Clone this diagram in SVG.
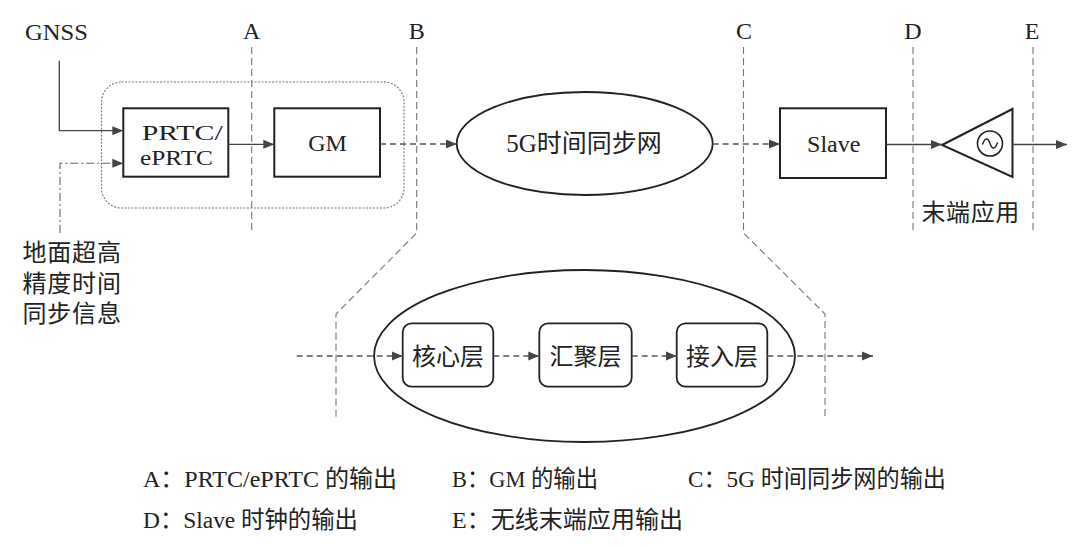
<svg xmlns="http://www.w3.org/2000/svg" width="1080" height="547" viewBox="0 0 1080 547">
<defs>
<marker id="ah" markerUnits="userSpaceOnUse" markerWidth="11" markerHeight="10" refX="11" refY="5" orient="auto">
<path d="M0,0.5 L11,5 L0,9.5 z" fill="#444"/>
</marker>
</defs>
<style>
.lat{font-family:"Liberation Serif","Noto Sans CJK SC",serif;fill:#222;}
.cjk{font-family:"Liberation Serif","Noto Sans CJK SC",serif;fill:#222;}
.box{fill:#fff;stroke:#222;stroke-width:2;}
.rbox{fill:#fff;stroke:#222;stroke-width:1.8;}
.ell{fill:#fff;stroke:#222;stroke-width:1.8;}
.solid{stroke:#444;stroke-width:1.3;fill:none;}
.dash{stroke:#555;stroke-width:1.4;fill:none;stroke-dasharray:6 4;}
.dashdot{stroke:#666;stroke-width:1.1;fill:none;stroke-dasharray:8 3 2 3;}
.ref{stroke:#777;stroke-width:1.1;fill:none;stroke-dasharray:7 4;}
.frame{fill:none;stroke:#777;stroke-width:1.1;stroke-dasharray:2 1.5;}
</style>
<rect width="1080" height="547" fill="#fff"/>

<g id="ref-lines">
<path class="ref" d="M251.7,47 V233"/>
<path class="ref" d="M416.7,47 V233 L336,314 V418"/>
<path class="ref" d="M743.5,47 V233 L825,314 V418"/>
<path class="ref" d="M913,47 V233"/>
<path class="ref" d="M1033,47 V233"/>
<text class="lat" x="251.7" y="39" font-size="24" text-anchor="middle">A</text>
<text class="lat" x="416.7" y="39" font-size="24" text-anchor="middle">B</text>
<text class="lat" x="744" y="39" font-size="24" text-anchor="middle">C</text>
<text class="lat" x="913" y="39" font-size="24" text-anchor="middle">D</text>
<text class="lat" x="1032" y="39" font-size="24" text-anchor="middle">E</text>
</g>

<g id="source-frame">
<rect class="frame" x="101.5" y="82" width="302.5" height="126" rx="20"/>
</g>

<g id="gnss">
<text class="lat" x="25" y="40" font-size="24" textLength="63" lengthAdjust="spacingAndGlyphs">GNSS</text>
</g>

<g id="ground-info">
<text class="cjk" x="22.5" y="261" font-size="24" letter-spacing="0.8">地面超高</text>
<text class="cjk" x="22.5" y="292" font-size="24" letter-spacing="0.8">精度时间</text>
<text class="cjk" x="22.5" y="321.5" font-size="24" letter-spacing="0.8">同步信息</text>
</g>

<g id="prtc">
<rect class="box" x="123.3" y="108.3" width="105" height="68.4"/>
<text class="lat" x="141.7" y="139.5" font-size="22" textLength="81" lengthAdjust="spacingAndGlyphs">PRTC/</text>
<text class="lat" x="140" y="164.5" font-size="22" textLength="73" lengthAdjust="spacingAndGlyphs">ePRTC</text>
</g>

<g id="gm">
<rect class="box" x="274.3" y="108.3" width="105.7" height="68.4"/>
<text class="lat" x="327.5" y="150.5" font-size="24" text-anchor="middle">GM</text>
</g>

<g id="net-5g">
<ellipse class="ell" cx="584.7" cy="143.5" rx="128" ry="51.5"/>
<text class="cjk" x="584" y="152" font-size="25" text-anchor="middle">5G时间同步网</text>
</g>

<g id="slave">
<rect class="box" x="780" y="108.3" width="106" height="69.7"/>
<text class="lat" x="833.7" y="151.7" font-size="24" text-anchor="middle">Slave</text>
</g>

<g id="terminal">
<path d="M942,145 L1012.5,109 V177 z" fill="#fff" stroke="#222" stroke-width="2" stroke-linejoin="miter"/>
<circle cx="990" cy="143.5" r="12.5" fill="none" stroke="#222" stroke-width="1.6"/>
<path d="M982.5,144.5 C985,137 988,137.5 990,143.5 C992,149.5 995,150 997.5,142.5" fill="none" stroke="#222" stroke-width="1.4"/>
<text class="cjk" x="921.5" y="221" font-size="24" letter-spacing="0.6">末端应用</text>
</g>

<g id="net-detail">
<ellipse class="ell" cx="584.5" cy="356" rx="210.5" ry="86"/>
</g>

<g id="core-layer">
<rect class="rbox" x="402.7" y="323.3" width="90.6" height="63.4" rx="9"/>
<text class="cjk" x="448" y="365" font-size="24" text-anchor="middle">核心层</text>
</g>
<g id="agg-layer">
<rect class="rbox" x="539.3" y="323.3" width="92.4" height="63.4" rx="9"/>
<text class="cjk" x="585.5" y="365" font-size="24" text-anchor="middle">汇聚层</text>
</g>
<g id="access-layer">
<rect class="rbox" x="676.7" y="323.3" width="90.6" height="63.4" rx="9"/>
<text class="cjk" x="722" y="365" font-size="24" text-anchor="middle">接入层</text>
</g>

<g id="connectors">
<path class="solid" d="M59.3,60.7 V130.7 H123.3" marker-end="url(#ah)"/>
<path class="dashdot" d="M60,233 V163.3 H123.3" marker-end="url(#ah)"/>
<path class="solid" d="M228.3,144.3 H274.3" marker-end="url(#ah)"/>
<path class="dash" d="M380,144 H456.7" marker-end="url(#ah)"/>
<path class="dash" d="M712.7,144 H780" marker-end="url(#ah)"/>
<path class="solid" d="M886,144.5 H942" marker-end="url(#ah)"/>
<path class="solid" d="M1012.5,144.5 H1067" marker-end="url(#ah)"/>
<path class="dash" d="M296.7,356 H402.7" marker-end="url(#ah)"/>
<path class="dash" d="M493.3,356 H539.3" marker-end="url(#ah)"/>
<path class="dash" d="M631.7,356 H676.7" marker-end="url(#ah)"/>
<path class="dash" d="M767.3,356 H873" marker-end="url(#ah)"/>
</g>

<g id="legend">
<text class="lat" x="143" y="487" font-size="24" textLength="254" lengthAdjust="spacingAndGlyphs">A：PRTC/ePRTC 的输出</text>
<text class="lat" x="452" y="487" font-size="24" textLength="146" lengthAdjust="spacingAndGlyphs">B：GM 的输出</text>
<text class="lat" x="688" y="487" font-size="24" textLength="258" lengthAdjust="spacingAndGlyphs">C：5G 时间同步网的输出</text>
<text class="lat" x="143" y="528" font-size="24" textLength="215" lengthAdjust="spacingAndGlyphs">D：Slave 时钟的输出</text>
<text class="lat" x="452" y="528" font-size="24" textLength="231" lengthAdjust="spacingAndGlyphs">E：无线末端应用输出</text>
</g>
</svg>
